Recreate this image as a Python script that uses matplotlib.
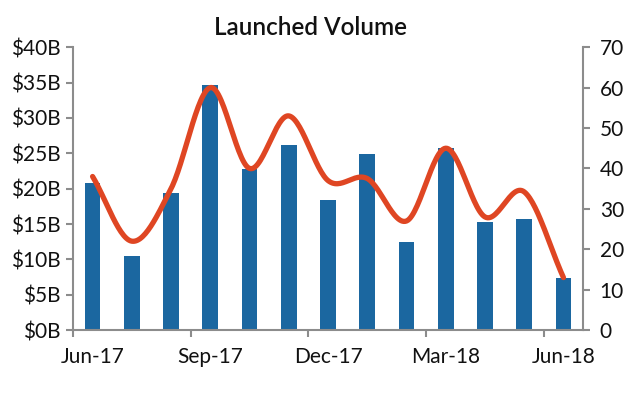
import matplotlib
matplotlib.use("Agg")
import matplotlib.pyplot as plt
import numpy as np

months = ["Jun-17", "Jul-17", "Aug-17", "Sep-17", "Oct-17", "Nov-17", "Dec-17",
          "Jan-18", "Feb-18", "Mar-18", "Apr-18", "May-18", "Jun-18"]
volume_b = [20.8, 10.5, 19.4, 34.6, 22.8, 26.1, 18.4, 24.9, 12.5, 25.8, 15.3, 15.7, 7.3]
deal_count = [38, 22, 35, 60, 40, 53, 37, 37.5, 27, 45, 28, 34.2, 13]
tick_labels = ["Jun-17", "Sep-17", "Dec-17", "Mar-18", "Jun-18"]

plt.rcParams['font.family'] = ['Lato', 'DejaVu Sans']

def catmull_rom(x, y, n=30):
    x = np.asarray(x, float); y = np.asarray(y, float)
    px = np.concatenate([[2*x[0]-x[1]], x, [2*x[-1]-x[-2]]])
    py = np.concatenate([[2*y[0]-y[1]], y, [2*y[-1]-y[-2]]])
    xs, ys = [], []
    t = np.linspace(0, 1, n)
    for i in range(1, len(px)-2):
        for p, out in ((px, xs), (py, ys)):
            p0, p1, p2, p3 = p[i-1], p[i], p[i+1], p[i+2]
            seg = 0.5*((2*p1) + (-p0+p2)*t + (2*p0-5*p1+4*p2-p3)*t**2 + (-p0+3*p1-3*p2+p3)*t**3)
            out.extend(seg if i == 1 else seg[1:])
    return np.array(xs), np.array(ys)

fig = plt.figure(figsize=(6.29, 3.93), dpi=100)
ax = fig.add_axes([0.116, 0.160, 0.811, 0.720])
x = np.arange(len(months))
ax.bar(x, volume_b, width=0.4, color="#1B67A0", zorder=2)
ax.set_xlim(-0.5, len(months) - 0.5)
ax.set_ylim(0, 40)
ax.set_yticks(np.arange(0, 41, 5))
ax.set_yticklabels([f"${v}B" for v in range(0, 41, 5)])

ax2 = ax.twinx()
ax2.set_ylim(0, 70)
ax2.set_yticks(np.arange(0, 71, 10))
sx, sy = catmull_rom(x, deal_count)
ax2.plot(sx, sy, color="#DF4623", lw=3.8, solid_capstyle='round', zorder=3)

label_pos = [months.index(m) for m in tick_labels]
ax.set_xticks([p - 0.5 for p in label_pos])
ax.set_xticklabels([])
ax.set_xticks(label_pos, minor=True)
ax.set_xticklabels(tick_labels, minor=True)

gray = "#8c8c8c"
fs = 15
for a in (ax, ax2):
    a.spines["top"].set_visible(False)
    for s in ("left", "right", "bottom"):
        a.spines[s].set_color(gray)
        a.spines[s].set_linewidth(1.5)
    a.tick_params(colors=gray, width=1.5, length=5, labelcolor="#111111", labelsize=fs)
ax.spines["right"].set_visible(False)
ax2.spines["left"].set_visible(False)
ax2.spines["bottom"].set_visible(False)
ax.tick_params(axis='x', which='major', length=5)
ax.tick_params(axis='x', which='minor', length=0, pad=12, labelsize=fs, labelcolor="#111111")
ax.tick_params(axis='y', pad=4)
ax2.tick_params(axis='y', pad=7)

fig.text(0.493, 0.93, "Launched Volume", ha="center", va="center", fontsize=17.5,
         fontweight="semibold", color="#111111")

fig.savefig("out.png", dpi=100)
